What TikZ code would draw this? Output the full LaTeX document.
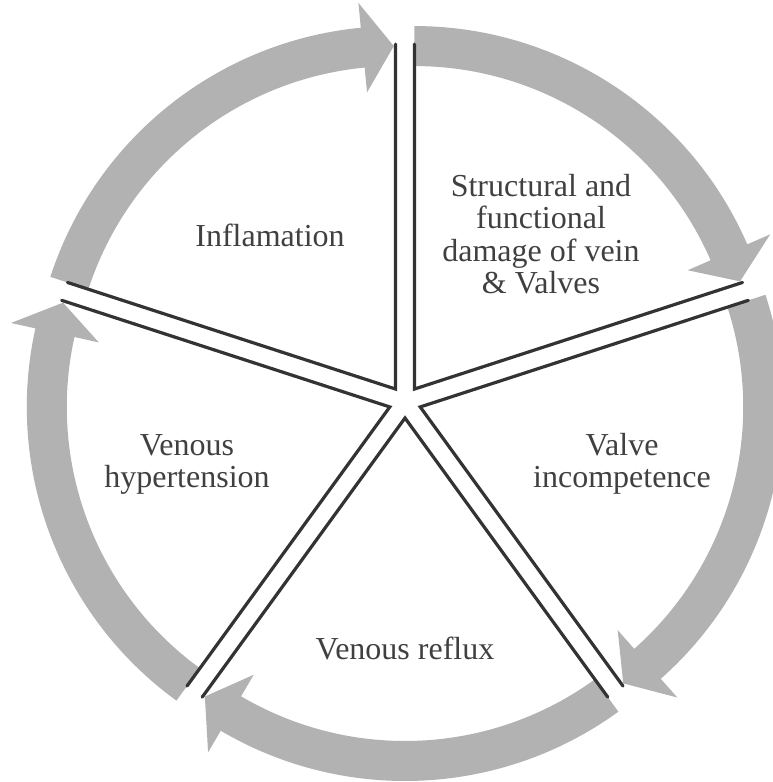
\documentclass[tikz,border=0pt]{standalone}
\usepackage{fontspec}
\setmainfont{Liberation Serif}
\definecolor{arrowgray}{RGB}{178,178,178}
\definecolor{edgedark}{RGB}{51,51,51}
\definecolor{textgray}{RGB}{64,64,64}
\begin{document}
\begin{tikzpicture}[x=1pt,y=1pt,
  lbl/.style={font=\fontsize{32}{32.5}\selectfont, text=textgray, align=center, anchor=base, inner sep=0pt},
  cyclearrow/.style={fill=arrowgray, draw=none},
  wedgeedge/.style={draw=edgedark, line width=3.2pt, line join=miter, line cap=round}]
\useasboundingbox (0,0) rectangle (773,-782);
% curved arrows (one per sector, clockwise)
\foreach \k in {0,...,4}{
  \pgfmathsetmacro\a{18-72*\k}
  \pgfmathsetmacro\b{\a+72}
  \pgfmathsetmacro\m{\a+36}
  \pgfmathsetmacro\h{\a+5.5}
  \pgfmathsetmacro\t{\a+0.3}
  \begin{scope}[shift={(405,-402)}, shift={(\m:16)}]
    \fill[cyclearrow] (\b:323) arc[start angle=\b, end angle=\h, radius=323]
      -- (\h:298) -- (\t:343) -- (\h:388) -- (\h:363)
      arc[start angle=\h, end angle=\b, radius=363] -- cycle;
  \end{scope}
}
% exploded sector edges
\foreach \k in {0,...,4}{
  \pgfmathsetmacro\a{18-72*\k}
  \pgfmathsetmacro\b{\a+72}
  \pgfmathsetmacro\m{\a+36}
  \begin{scope}[shift={(405,-402)}, shift={(\m:16)}]
    \draw[wedgeedge] (\a:345) -- (0,0) -- (\b:345);
  \end{scope}
}
% labels (node base = baseline of the last line)
\node[lbl] (struct) at (541,-293.5) {Structural and\\functional\\damage of vein\\\& Valves};
\node[lbl] (valve) at (622,-487.5) {Valve\\incompetence};
\node[lbl] (reflux) at (405,-659) {Venous reflux};
\node[lbl] (hyper) at (187,-487.5) {Venous\\hypertension};
\node[lbl] (inflam) at (270,-246) {Inflamation};
\end{tikzpicture}
\end{document}
